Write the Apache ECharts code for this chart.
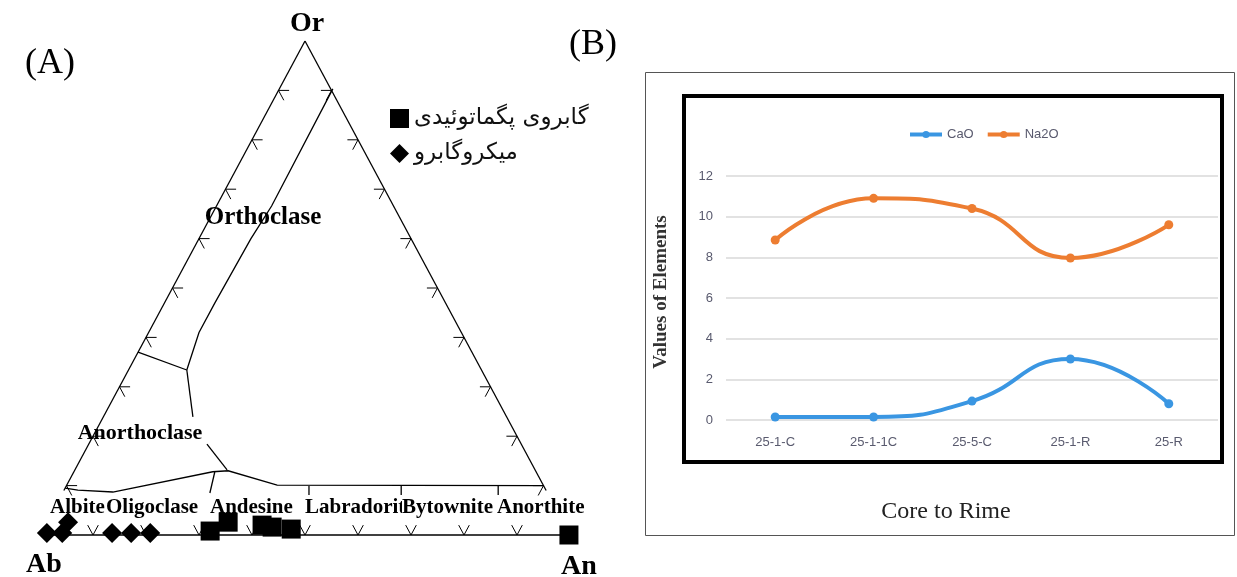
<!DOCTYPE html>
<html><head><meta charset="utf-8">
<script src="https://cdn.jsdelivr.net/npm/echarts/dist/echarts.min.js"></script>
<style>html,body{margin:0;padding:0;background:#fff;}#c{width:1237px;height:577px;}</style>
</head><body><div id="c"></div>
<script>
// ---------- Panel A data: ternary compositions [An, Or] (Ab = 100 - An - Or) ----------
const pegmatoidName = 'گابروی پگماتوئیدی';
const microName = 'میکروگابرو';
const pegmatoidGabbro = [[31.7,0.8],[34.2,2.6],[40.9,2.0],[43.0,1.6],[46.8,1.2],[99.8,0]];
const microGabbro = [[1.1,0.4],[4.0,0.4],[4.0,2.6],[13.4,0.4],[17.0,0.4],[20.6,0.4]];
const leftSide = [[0,9],[0,100]];
const rightSide = [[91,9],[0,100]];
const baseLine = [[0,0],[100,0]];
const orthoclaseBoundary = [[10.1,90.3],[10.4,66.6],[9.8,60],[9.5,47],[9.5,41],[11,33.4]];
const anorthoclaseUpper = [[11,33.4],[0,37]];
const anorthoclaseRight = [[11,33.4],[16.9,23.9]];
const anorthoclaseRightLow = [[22.3,18.4],[28.7,13.2]];
const plagioclaseBoundary = [[0,9.5],[2.6,9.1],[9.4,8.7],[26.2,12.8],[29,13],[39.7,10.1],[90,10]];
const dividers = [[[26.6,12.75],[27.8,8.5]],[[45.8,9.9],[46.7,8.1]],[[63.2,9.9],[64.1,8.1]],[[81.5,9.9],[82.4,8.1]]];
const tickValues = [10,20,30,40,50,60,70,80,90];

// ---------- Panel B data ----------
const samples = ['25-1-C','25-1-1C','25-5-C','25-1-R','25-R'];
const caO = [0.15, 0.15, 0.93, 3.0, 0.8];
const na2O = [8.85, 10.9, 10.4, 7.97, 9.6];

// ternary -> cartesian (x = An + Or/2, y = Or)
const P = ([an, or]) => [an + or / 2, or];
const seg = pts => ({ coords: pts.map(P) });

const d = 2;
const tickSegs = [];
tickValues.forEach(o => {
  tickSegs.push(seg([[0,o],[d,o]]), seg([[0,o],[d,o-d]]));
  tickSegs.push(seg([[100-o,o],[100-o-d,o]]), seg([[100-o,o],[100-o,o-d]]));
  tickSegs.push(seg([[o,0],[o,d]]), seg([[o,0],[o-d,d]]));
});

const serifB = (size) => ({fontFamily:'Liberation Serif', fontWeight:'bold', fontSize:size, fill:'#000'});
function txt(text, x, y, style, align) {
  return {type:'text', x:x, y:y, z:1, silent:true,
    style:Object.assign({text:text, align:align||'center', verticalAlign:'middle'}, style)};
}
const fieldFont = 21;
const fieldStyle = () => Object.assign(serifB(fieldFont), {backgroundColor:'#fff'});
const graphics = [
  {type:'rect', z:0, silent:true, shape:{x:645.5, y:72.5, width:589, height:463}, style:{fill:null, stroke:'#555', lineWidth:1}},
  {type:'rect', z:0, silent:true, shape:{x:684, y:96, width:538, height:366}, style:{fill:null, stroke:'#000', lineWidth:4}},
  txt('(A)', 50, 64, {fontFamily:'Liberation Serif', fontSize:36, fill:'#000'}),
  txt('(B)', 593, 45, {fontFamily:'Liberation Serif', fontSize:36, fill:'#000'}),
  txt('Or', 307, 24, serifB(28)),
  txt('Ab', 44, 565, serifB(28)),
  txt('An', 579, 567, serifB(28)),
  txt('Orthoclase', 263, 218, serifB(25)),
  txt('Anorthoclase', 140, 433, serifB(22)),
  txt('Albite', 50, 508, fieldStyle(), 'left'),
  txt('Oligoclase', 106, 508, fieldStyle(), 'left'),
  txt('Andesine', 210, 508, fieldStyle(), 'left'),
  txt('Labradorite', 305, 508, fieldStyle(), 'left'),
  txt('Bytownite', 402, 508, fieldStyle(), 'left'),
  txt('Anorthite', 497, 508, fieldStyle(), 'left')
];

const linesSeries = (data, w) => ({type:'lines', coordinateSystem:'cartesian2d', xAxisIndex:0, yAxisIndex:0,
  polyline:true, silent:true, clip:false, z:3, lineStyle:{color:'#000', width:w, opacity:1}, data:data});

const narrow = 'Liberation Sans Narrow, Liberation Sans';
const chart = echarts.init(document.getElementById('c'), null, {renderer:'canvas'});
chart.setOption({
  animation:false,
  backgroundColor:'#fff',
  graphic: graphics,
  grid:[
    {left:40, top:41, width:530, height:494, containLabel:false, outerBoundsMode:'none'},
    {left:726, top:176, width:492, height:244, containLabel:false, outerBoundsMode:'none'}
  ],
  legend:[
    {data:[{name:pegmatoidName, icon:'rect'},{name:microName, icon:'diamond'}],
     orient:'vertical', left:385, top:102, itemGap:12, itemWidth:19, itemHeight:19,
     textStyle:{fontFamily:'DejaVu Sans', fontSize:23, color:'#111'}},
    {data:['CaO','Na2O'], orient:'horizontal', left:903, top:123, itemGap:12, itemWidth:32, itemHeight:9,
     lineStyle:{width:4}, textStyle:{fontFamily:narrow, fontSize:13, color:'#595a6e'}}
  ],
  xAxis:[
    {gridIndex:0, type:'value', min:0, max:100, show:false},
    {gridIndex:1, type:'category', data:samples, boundaryGap:true,
     axisLine:{show:false}, axisTick:{show:false},
     axisLabel:{margin:16, fontFamily:narrow, fontSize:13, color:'#595a6e'},
     name:'Core to Rime', nameLocation:'middle', nameGap:80,
     nameTextStyle:{fontFamily:'Liberation Serif', fontSize:24, color:'#222', padding:[0,52,0,0]}}
  ],
  yAxis:[
    {gridIndex:0, type:'value', min:0, max:100, show:false},
    {gridIndex:1, type:'value', min:0, max:12, interval:2,
     axisLine:{show:false}, axisTick:{show:false},
     splitLine:{show:true, lineStyle:{color:'#d9d9d9', width:1.5}},
     axisLabel:{margin:13, fontFamily:narrow, fontSize:13, color:'#595a6e'},
     name:'Values of Elements', nameLocation:'middle', nameGap:55, nameRotate:90,
     nameTextStyle:{fontFamily:'Liberation Serif', fontWeight:'bold', fontSize:19, color:'#333', padding:[0,0,0,12]}}
  ],
  series:[
    linesSeries([seg(leftSide), seg(rightSide), seg(baseLine)], 1.3),
    linesSeries([seg(orthoclaseBoundary), seg(anorthoclaseUpper), seg(anorthoclaseRight),
                 seg(anorthoclaseRightLow), seg(plagioclaseBoundary)].concat(dividers.map(seg)), 1.3),
    linesSeries(tickSegs, 1),
    {name:pegmatoidName, type:'scatter', xAxisIndex:0, yAxisIndex:0, clip:false, z:5,
     symbol:'rect', symbolSize:19, itemStyle:{color:'#000', opacity:1}, data:pegmatoidGabbro.map(P)},
    {name:microName, type:'scatter', xAxisIndex:0, yAxisIndex:0, clip:false, z:5,
     symbol:'diamond', symbolSize:20, itemStyle:{color:'#000', opacity:1}, data:microGabbro.map(P)},
    {name:'CaO', type:'line', xAxisIndex:1, yAxisIndex:1, data:caO, smooth:0.5,
     symbol:'circle', symbolSize:9, lineStyle:{width:4, color:'#3a96e2'}, itemStyle:{color:'#3a96e2'}},
    {name:'Na2O', type:'line', xAxisIndex:1, yAxisIndex:1, data:na2O, smooth:0.5,
     symbol:'circle', symbolSize:9, lineStyle:{width:4, color:'#ed7d31'}, itemStyle:{color:'#ed7d31'}}
  ]
});
</script></body></html>
